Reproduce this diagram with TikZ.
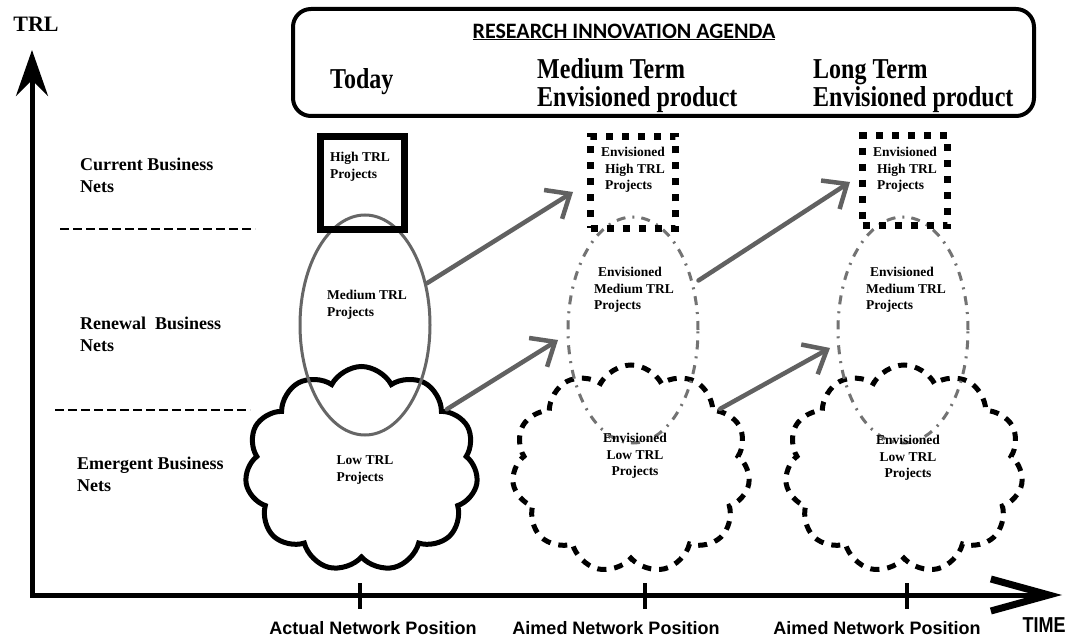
\documentclass[tikz,border=0pt]{standalone}
\usepackage{fontspec}
\setmainfont{Liberation Serif}
\newfontfamily\calibf{Carlito}
\newfontfamily\arialf{Liberation Sans}
\usetikzlibrary{arrows.meta,shapes.geometric,shapes.symbols}
\begin{document}
\begin{tikzpicture}[x=1pt,y=-1pt,
  lbl/.style={font=\fontsize{18}{22}\selectfont\bfseries, align=left, anchor=west, inner sep=0pt},
  small/.style={font=\fontsize{13.5}{16.5}\selectfont\bfseries, align=left, inner sep=0pt},
  posl/.style={font=\arialf\fontsize{18}{20}\selectfont\bfseries, inner sep=0pt},
  sketch/.style={draw=black!62, line width=4.5pt, line cap=round, -{Straight Barb[length=20pt,width=34pt]}},
  solidbox/.style={draw, line width=7pt, minimum width=84pt, minimum height=93pt, inner sep=0pt},
  dotbox/.style={draw, line width=7pt, dash pattern=on 7pt off 9pt, inner sep=0pt},
  ellsolid/.style={ellipse, draw=black!60, line width=3pt, inner sep=0pt},
  elldash/.style={ellipse, draw=black!55, line width=3pt, dash pattern=on 9pt off 7pt on 2pt off 7pt, inner sep=0pt},
  cloudshape/.style={cloud, cloud puffs=11, cloud puff arc=125, cloud ignores aspect, draw, line width=5pt, inner sep=0pt},
  clouddash/.style={cloudshape, dash pattern=on 9pt off 8pt},
  divider/.style={line width=2.5pt, dash pattern=on 9pt off 4pt},
]
\path[fill=white, use as bounding box] (0,0) rectangle (1069,639);

% axes
\coordinate (O) at (32,595);
\coordinate (Y) at (32,50);
\coordinate (X) at (1062,595);
\draw[line width=5pt, {Stealth[length=46pt,width=32pt,inset=16pt]}-{Straight Barb[length=58pt,width=32pt,line width=7pt]}] (Y) -- (O) -- (X);
\node[font=\fontsize{22}{22}\selectfont\bfseries, inner sep=0pt] (trl) at (36,24) {TRL};
\node[inner sep=0pt] (time) at (1044,625) {\scalebox{1}[1.2]{\arialf\fontsize{18}{18}\selectfont\bfseries TIME}};

% ticks
\draw[line width=4pt] (360,583) -- (360,609);
\draw[line width=4pt] (645,583) -- (645,609);
\draw[line width=4pt] (907,583) -- (907,609);
\node[posl] (p1) at (373,628) {Actual Network Position};
\node[posl] (p2) at (616,628) {Aimed Network Position};
\node[posl] (p3) at (877,628) {Aimed Network Position};

% left labels and dividers
\node[lbl] (cur) at (80,175) {Current Business\\Nets};
\node[lbl] (ren) at (80,334) {Renewal\ \ Business\\Nets};
\node[lbl] (emg) at (77,474) {Emergent Business\\Nets};
\draw[divider] (60,229) -- (255,229);
\draw[divider] (55,410) -- (250,410);

% top agenda box
\node[draw, line width=4pt, rounded corners=18pt, minimum width=741pt, minimum height=107pt, inner sep=0pt] (agenda) at (663.5,62.5) {};
\node[font=\calibf\fontsize{22}{26}\selectfont\bfseries, inner sep=0pt] (rig) at (624,32) {\underline{RESEARCH INNOVATION AGENDA}};
\node[inner sep=0pt, anchor=west] (tod) at (330,82) {\scalebox{1}[1.2]{\fontsize{24}{24}\selectfont\bfseries Today}};
\node[inner sep=0pt, anchor=west] (mid) at (537,87) {\scalebox{1}[1.2]{\fontsize{24}{23.5}\selectfont\bfseries\begin{tabular}{@{}l@{}}Medium Term\\Envisioned product\end{tabular}}};
\node[inner sep=0pt, anchor=west] (lon) at (813,87) {\scalebox{1}[1.2]{\fontsize{24}{23.5}\selectfont\bfseries\begin{tabular}{@{}l@{}}Long Term\\Envisioned product\end{tabular}}};

% column 1 (today)
\node[cloudshape, minimum width=233pt, minimum height=205pt] (c1) at (361.5,469) {};
\node[ellsolid, minimum width=130pt, minimum height=220pt] (e1) at (365,325) {};
\node[solidbox] (b1) at (362.5,183) {};
\node[small] (t1) at (360,167) {High TRL\\Projects};
\node[small] (t2) at (367,305) {Medium TRL\\Projects};
\node[small] (t3) at (365,470) {Low TRL\\Projects};

% column 2 (medium term)
\node[clouddash, minimum width=238pt, minimum height=208pt] (c2) at (631,469) {};
\node[elldash, minimum width=130pt, minimum height=226pt] (e2) at (633,330) {};
\node[dotbox, minimum width=85pt, minimum height=92pt] (b2) at (633,182.5) {};
\node[small] (t4) at (633,170) {Envisioned\\\hspace{4pt}High TRL\\\hspace{4pt}Projects};
\node[small] (t5) at (634,290) {\hspace{4pt}Envisioned\\Medium TRL\\Projects};
\node[small, align=center] (t6) at (635,456) {Envisioned\\Low TRL\\Projects};

% column 3 (long term)
\node[clouddash, minimum width=238pt, minimum height=208pt] (c3) at (904,469) {};
\node[elldash, minimum width=130pt, minimum height=226pt] (e3) at (903,330) {};
\node[dotbox, minimum width=85pt, minimum height=90pt] (b3) at (905,181) {};
\node[small] (t7) at (905,170) {Envisioned\\\hspace{4pt}High TRL\\\hspace{4pt}Projects};
\node[small] (t8) at (906,290) {\hspace{4pt}Envisioned\\Medium TRL\\Projects};
\node[small, align=center] (t9) at (908,458) {Envisioned\\Low TRL\\Projects};

% transition arrows
\coordinate (a1) at (573,192);
\coordinate (a2) at (558,340);
\coordinate (a3) at (850,182);
\coordinate (a4) at (830,348);
\draw[sketch] (e1.34) -- (a1);
\draw[sketch] (c1.35) -- (a2);
\draw[sketch] ([shift={(8pt,-8pt)}]e2.45) -- (a3);
\draw[sketch] (c2.34) -- (a4);
\end{tikzpicture}
\end{document}
